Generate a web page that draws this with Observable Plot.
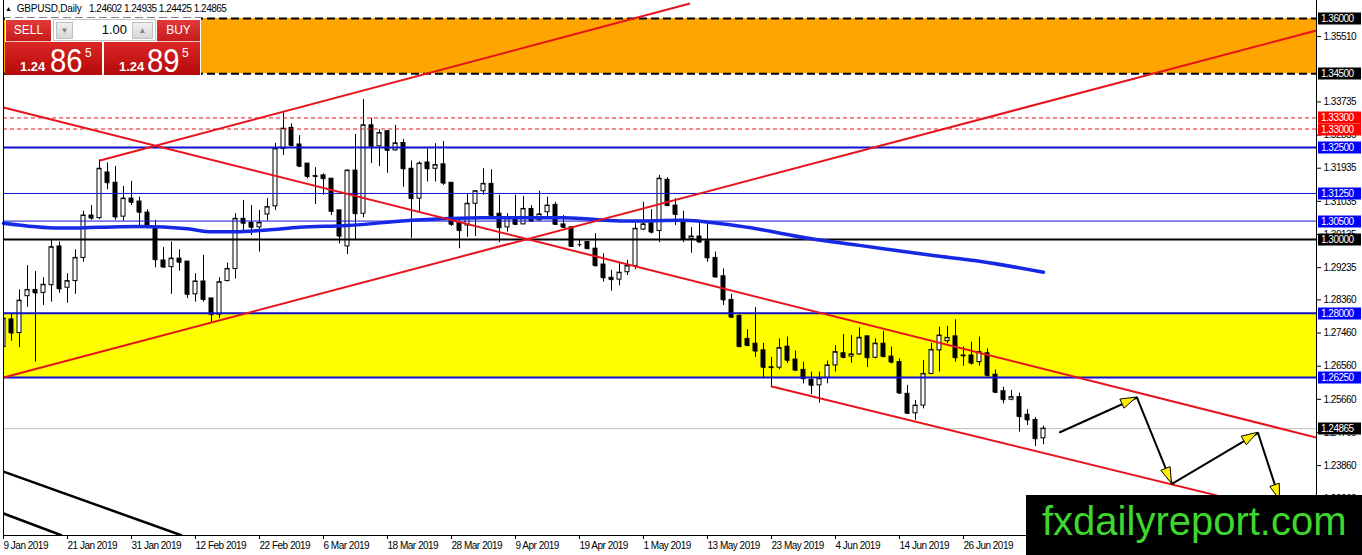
<!DOCTYPE html>
<html><head><meta charset="utf-8">
<script src="https://cdn.jsdelivr.net/npm/d3@7"></script>
<script src="https://cdn.jsdelivr.net/npm/@observablehq/plot@0.6"></script>
<style>
html,body{margin:0;padding:0;background:#fff;}
body{width:1362px;height:555px;overflow:hidden;position:relative;font-family:"Liberation Sans",Arial,sans-serif;}
#chart{position:absolute;left:0;top:0;}
#chart svg text{letter-spacing:-0.5px;}
#hdr{position:absolute;left:5px;top:3px;font-size:10px;letter-spacing:-0.2px;color:#000;white-space:pre;line-height:12px;}
#hdr .tri{font-size:7px;position:relative;top:-1px;margin-right:5px;}
#hdr .ohlc{position:absolute;left:84px;top:0;letter-spacing:-0.5px;}
.box{position:absolute;box-sizing:border-box;}
.lbl{color:#fff;font-size:12px;text-align:center;line-height:21px;background:linear-gradient(#e03a3a,#c81c1c);border-bottom:1px solid #f6c8c8;}
.big{background:linear-gradient(#dc2626,#b40a0a);color:#fff;}
.big span{position:absolute;line-height:1;white-space:nowrap;}
.big .s{font-size:13px;font-weight:bold;}
.big .b{font-size:34px;transform:scaleX(0.86);transform-origin:left top;}
.big .p{font-size:12px;}
#lot{background:#fff;border:1px solid #c4c4c4;}
.spin{position:absolute;background:linear-gradient(#f0f0f0,#d8d8d8);border:1px solid #c0c0c0;color:#808080;font-size:8px;text-align:center;line-height:16px;box-sizing:border-box;}
#lotv{position:absolute;right:28px;top:2px;font-size:13px;line-height:16px;color:#000;}
#wm{position:absolute;left:1026px;top:495px;width:336px;height:60px;background:#000;}
#wm span{position:absolute;left:16px;top:6px;font-size:40px;line-height:1;color:#3fd62e;white-space:nowrap;}
</style></head><body>
<div id="chart"></div>
<div id="hdr"><span class="tri">▲</span><span id="sym"></span><span class="ohlc" id="ohlc"></span></div>
<div class="box" style="left:5px;top:18px;width:196px;height:58px;background:#fff;"></div>
<div class="box lbl" style="left:6px;top:20px;width:45px;height:22px;">SELL</div>
<div class="box" id="lot" style="left:53px;top:19px;width:103px;height:22px;">
  <div class="spin" style="left:2px;top:2px;width:17px;height:17px;">▼</div>
  <span id="lotv"></span>
  <div class="spin" style="left:78px;top:2px;width:21px;height:17px;">▲</div>
</div>
<div class="box lbl" style="left:157px;top:20px;width:43px;height:22px;">BUY</div>
<div class="box big" id="sellBig" style="left:5px;top:42px;width:97px;height:33px;">
  <span class="s" style="left:15px;top:18px;"></span><span class="b" style="left:45px;top:1px;"></span><span class="p" style="left:80px;top:5px;"></span>
</div>
<div class="box big" id="buyBig" style="left:104px;top:42px;width:96px;height:33px;">
  <span class="s" style="left:15px;top:18px;"></span><span class="b" style="left:43px;top:1px;"></span><span class="p" style="left:78px;top:5px;"></span>
</div>
<div id="wm"><span>fxdailyreport.com</span></div>
<script>
// ---------- DATA ----------
const symbol = "GBPUSD,Daily";
const headerOHLC = [1.24602, 1.24935, 1.24425, 1.24865];
const lotSize = "1.00";
const bidPrice = 1.24865;
const askPrice = 1.24895;

const dateLabels = ["9 Jan 2019","21 Jan 2019","31 Jan 2019","12 Feb 2019","22 Feb 2019","6 Mar 2019","18 Mar 2019","28 Mar 2019","9 Apr 2019","19 Apr 2019","1 May 2019","13 May 2019","23 May 2019","4 Jun 2019","14 Jun 2019","26 Jun 2019"];
const barsPerLabel = 8;

const opens = [1.2708,1.2783,1.2746,1.2846,1.2863,1.2855,1.2876,1.2981,1.2869,1.2887,1.2950,1.3065,1.3058,1.3182,1.3154,1.3062,1.3111,1.3103,1.3073,1.3033,1.2943,1.2925,1.2948,1.2940,1.2851,1.2886,1.2840,1.2796,1.2887,1.2920,1.3056,1.3045,1.3033,1.3068,1.3090,1.3246,1.3303,1.3258,1.3206,1.3172,1.3174,1.3165,1.3079,1.2981,1.3187,1.3070,1.3310,1.3253,1.3294,1.3242,1.3262,1.3192,1.3111,1.3209,1.3192,1.3204,1.3154,1.3045,1.3038,1.3097,1.3131,1.3151,1.3070,1.3033,1.3061,1.3041,1.3083,1.3052,1.3074,1.3094,1.3041,1.3033,1.2986,1.2993,1.2975,1.2932,1.2896,1.2891,1.2911,1.2928,1.3027,1.3044,1.3023,1.3162,1.3092,1.3052,1.3002,1.3008,1.2995,1.2950,1.2900,1.2836,1.2792,1.2730,1.2717,1.2699,1.2653,1.2652,1.2709,1.2674,1.2646,1.2619,1.2604,1.2624,1.2658,1.2691,1.2682,1.2688,1.2737,1.2679,1.2717,1.2682,1.2667,1.2581,1.2528,1.2549,1.2635,1.2699,1.2724,1.2737,1.2685,1.2685,1.2667,1.2691,1.2633,1.2588,1.2565,1.2572,1.2524,1.2510];
const highs = [1.2799,1.2799,1.2863,1.2929,1.2913,1.2896,1.2999,1.2993,1.2907,1.2972,1.3077,1.3092,1.3216,1.3208,1.3198,1.3144,1.3158,1.3115,1.3081,1.3052,1.2978,1.2993,1.2972,1.2940,1.2907,1.2957,1.2840,1.2896,1.2936,1.3070,1.3106,1.3092,1.3079,1.3111,1.3261,1.3344,1.3314,1.3282,1.3206,1.3195,1.3178,1.3165,1.3079,1.3189,1.3285,1.3380,1.3329,1.3298,1.3296,1.3310,1.3272,1.3213,1.3211,1.3246,1.3260,1.3266,1.3154,1.3054,1.3122,1.3122,1.3192,1.3189,1.3120,1.3070,1.3120,1.3117,1.3092,1.3131,1.3115,1.3101,1.3065,1.3035,1.2999,1.2993,1.3016,1.2961,1.2916,1.2936,1.2943,1.3043,1.3101,1.3081,1.3174,1.3168,1.3111,1.3077,1.3032,1.3043,1.3041,1.2966,1.2920,1.2851,1.2796,1.2755,1.2815,1.2718,1.2680,1.2730,1.2735,1.2697,1.2667,1.2640,1.2640,1.2670,1.2712,1.2742,1.2739,1.2760,1.2737,1.2730,1.2751,1.2708,1.2676,1.2604,1.2563,1.2671,1.2718,1.2762,1.2764,1.2782,1.2708,1.2721,1.2735,1.2703,1.2646,1.2599,1.2590,1.2583,1.2538,1.2517];
const lows = [1.2699,1.2724,1.2706,1.2816,1.2667,1.2821,1.2830,1.2854,1.2827,1.2851,1.2938,1.3052,1.3054,1.3135,1.3052,1.3050,1.3092,1.3038,1.3029,1.2923,1.2923,1.2851,1.2914,1.2840,1.2830,1.2830,1.2775,1.2785,1.2885,1.2893,1.3017,1.3011,1.2966,1.3050,1.3079,1.3228,1.3251,1.3195,1.3165,1.3095,1.3120,1.3065,1.2988,1.2959,1.2997,1.3059,1.3206,1.3198,1.3180,1.3240,1.3142,1.3003,1.3074,1.3156,1.3156,1.3147,1.3035,1.2975,1.3006,1.3008,1.3120,1.3063,1.2991,1.3020,1.3040,1.3040,1.3047,1.3049,1.3061,1.3038,1.3032,1.2979,1.2979,1.2973,1.2925,1.2884,1.2860,1.2874,1.2902,1.2918,1.3024,1.3015,1.2991,1.3090,1.3038,1.2991,1.2963,1.2990,1.2938,1.2898,1.2821,1.2785,1.2708,1.2709,1.2680,1.2622,1.2601,1.2646,1.2664,1.2645,1.2608,1.2579,1.2556,1.2608,1.2640,1.2676,1.2664,1.2685,1.2652,1.2676,1.2679,1.2662,1.2579,1.2525,1.2509,1.2540,1.2633,1.2640,1.2717,1.2667,1.2656,1.2659,1.2656,1.2626,1.2583,1.2554,1.2562,1.2477,1.2495,1.2438];
const closes = [1.2785,1.2746,1.2834,1.2863,1.2855,1.2877,1.2979,1.2866,1.2887,1.2950,1.3065,1.3058,1.3192,1.3154,1.3061,1.3111,1.3101,1.3074,1.3035,1.2945,1.2925,1.2948,1.2938,1.2851,1.2886,1.2837,1.2796,1.2884,1.2920,1.3056,1.3044,1.3033,1.3045,1.3088,1.3246,1.3301,1.3255,1.3199,1.3171,1.3171,1.3165,1.3076,1.3009,1.3187,1.3070,1.3310,1.3253,1.3289,1.3242,1.3261,1.3192,1.3111,1.3206,1.3192,1.3202,1.3153,1.3041,1.3024,1.3097,1.3131,1.3151,1.3065,1.3032,1.3056,1.3041,1.3083,1.3050,1.3068,1.3092,1.3041,1.3033,1.2981,1.2986,1.2975,1.2929,1.2896,1.2891,1.2910,1.2928,1.3029,1.3041,1.3020,1.3165,1.3092,1.3068,1.3002,1.3008,1.2993,1.2950,1.2898,1.2836,1.2789,1.2709,1.2712,1.2697,1.2653,1.2652,1.2705,1.2672,1.2645,1.2622,1.2604,1.2622,1.2658,1.2694,1.2680,1.2688,1.2733,1.2679,1.2717,1.2682,1.2667,1.2583,1.2528,1.2549,1.2635,1.2700,1.2739,1.2733,1.2679,1.2684,1.2664,1.2694,1.2631,1.2585,1.2565,1.2572,1.2519,1.2510,1.2459];
// last (current) bar from the header
opens.push(headerOHLC[0]); highs.push(headerOHLC[1]); lows.push(headerOHLC[2]); closes.push(headerOHLC[3]);

// moving average (bar index, value)
const maBars = [0,7,12,17,23,26,29,33,37,43,51,60,70,78,85,89,93,101,107,116,122,130];
const maValues = [1.3044,1.3031,1.3033,1.3035,1.3029,1.3021,1.3021,1.3026,1.3033,1.3038,1.3052,1.3059,1.3059,1.3050,1.3052,1.3045,1.3033,1.3002,1.2984,1.2957,1.2941,1.2911];

// zones and horizontal levels
const orangeZone = [1.345, 1.36];
const yellowZone = [1.2625, 1.28];
const blackDashedLevels = [1.36, 1.345];
const redDashedLevels = [1.333, 1.330];
const blueThickLevels = [1.325, 1.28, 1.2625];
const blueThinLevels = [1.3125, 1.305];
const blackLevels = [1.30];
const currentPrice = 1.24865;

// trendlines: [bar, price] start and end
const redTrendStart = [[12.06,1.32144],[0,1.26252],[0,1.33584],[95.9,1.26016]];
const redTrendEnd   = [[85.81,1.36407],[164.1,1.35674],[164.1,1.24623],[164.1,1.22389]];
const blackTrendStart = [[0,1.23698],[0,1.2256]];
const blackTrendEnd   = [[22.3,1.21963],[7.3,1.21963]];

// forecast zig-zag arrows
const arrowBars   = [132.06,141.69,146.06,156.81,159.56];
const arrowPrices = [1.24767,1.25709,1.23366,1.24751,1.22913];

// right-axis ticks and labelled levels
const yTicks = [1.35510,1.33735,1.32835,1.31935,1.31035,1.30135,1.29235,1.28360,1.27460,1.26560,1.25660,1.24760,1.23860,1.22960];
const tagLevels = [1.36,1.345,1.333,1.330,1.325,1.3125,1.305,1.30,1.28,1.2625,1.24865];
const tagKinds  = ["k","k","r","r","b","b","b","k","b","b","k"];

// ---------- CHART ----------
const xDomain = [0, 164.125];
const yDomain = [1.21963, 1.36489];
const candles = opens.map((o,i)=>({i, o, h:highs[i], l:lows[i], c:closes[i]}));
const ma = maBars.map((b,k)=>({b, v:maValues[k]}));
const arrows = arrowBars.map((b,k)=>({b, p:arrowPrices[k]}));
const redTrends = redTrendStart.map((s,k)=>({s, e:redTrendEnd[k]}));
const blackTrends = blackTrendStart.map((s,k)=>({s, e:blackTrendEnd[k]}));
const tickBars = dateLabels.map((_,k)=>k*barsPerLabel);
const half = 0.25;

const chart = Plot.plot({
  width:1362, height:555,
  marginLeft:3, marginRight:46, marginTop:0, marginBottom:20,
  x:{domain:xDomain, axis:null},
  y:{domain:yDomain, axis:null},
  color:{type:"identity"},
  style:{fontFamily:"Liberation Sans, Arial, sans-serif", fontSize:"10px", background:"#fff", color:"#000"},
  marks:[
    Plot.rect([orangeZone], {x1:()=>xDomain[0], x2:()=>xDomain[1], y1:d=>d[0], y2:d=>d[1], fill:"#ffa500"}),
    Plot.rect([yellowZone], {x1:()=>xDomain[0], x2:()=>xDomain[1], y1:d=>d[0], y2:d=>d[1], fill:"#ffff00"}),
    Plot.ruleY([currentPrice], {stroke:"#c0c0c0", strokeWidth:1}),
    // candles
    Plot.ruleX(candles, {x:"i", y1:"l", y2:"h", stroke:"#000", strokeWidth:1, clip:true}),
    Plot.rect(candles, {x1:d=>d.i-half, x2:d=>d.i+half, y1:"o", y2:"c", fill:d=>d.c>=d.o?"#fff":"#000", stroke:"#000", strokeWidth:1, clip:true}),
    Plot.link(candles, {x1:d=>d.i-half, x2:d=>d.i+half, y1:"c", y2:"c", stroke:"#000", strokeWidth:1, clip:true}),
    // horizontal levels
    Plot.ruleY(blackDashedLevels, {stroke:"#000", strokeWidth:2, strokeDasharray:"8,4"}),
    Plot.ruleY(redDashedLevels, {stroke:"#e8141c", strokeWidth:1, strokeDasharray:"4,3"}),
    Plot.ruleY(blueThinLevels, {stroke:"#1010d0", strokeWidth:1}),
    Plot.ruleY(blueThickLevels, {stroke:"#1010d0", strokeWidth:2}),
    Plot.ruleY(blackLevels, {stroke:"#000", strokeWidth:2}),
    // moving average
    Plot.line(ma, {x:"b", y:"v", stroke:"#1428e6", strokeWidth:3.5, curve:"monotone-x"}),
    // trendlines
    Plot.link(redTrends, {x1:d=>d.s[0], y1:d=>d.s[1], x2:d=>d.e[0], y2:d=>d.e[1], stroke:"#e8141c", strokeWidth:2, clip:true}),
    Plot.link(blackTrends, {x1:d=>d.s[0], y1:d=>d.s[1], x2:d=>d.e[0], y2:d=>d.e[1], stroke:"#000", strokeWidth:2.5, clip:true}),
    // forecast arrows
    Plot.line(arrows, {x:"b", y:"p", stroke:"#000", strokeWidth:2}),
    // frame
    Plot.ruleX([xDomain[0], xDomain[1]], {stroke:"#000"}),
    Plot.ruleY([yDomain[0]], {stroke:"#000"}),
    // axes
    Plot.axisX(tickBars, {tickFormat:d=>dateLabels[d/barsPerLabel], textAnchor:"start", tickSize:4, tickPadding:2, dx:0, label:null}),
    Plot.axisY(yTicks, {anchor:"right", tickFormat:d=>d.toFixed(5), tickSize:4, tickPadding:3, label:null})
  ]
});
document.getElementById("chart").appendChild(chart);

// arrowheads and price tags using Plot's own scales
const sx = chart.scale("x"), sy = chart.scale("y");
const svg = d3.select(chart);
const gh = svg.append("g");
for (let k=1;k<arrows.length;k++){
  const x1=sx.apply(arrows[k-1].b), y1=sy.apply(arrows[k-1].p);
  const x2=sx.apply(arrows[k].b), y2=sy.apply(arrows[k].p);
  const a=Math.atan2(y2-y1,x2-x1), L=16, W=5;
  const bx=x2-L*Math.cos(a), by=y2-L*Math.sin(a);
  const nx=-Math.sin(a), ny=Math.cos(a);
  gh.append("polygon").attr("points",[[x2,y2],[bx+W*nx,by+W*ny],[bx-W*nx,by-W*ny]].map(p=>p.join(",")).join(" "))
    .attr("fill","#ffee00").attr("stroke","#000").attr("stroke-width",1);
}
const tagFill = {k:"#000", r:"#ff0000", b:"#0000ff"};
const gt = svg.append("g").attr("text-anchor","start");
tagLevels.forEach((v,k)=>{
  const y = Math.round(sy.apply(v));
  gt.append("rect").attr("x",1318).attr("y",y-5.5).attr("width",43).attr("height",12).attr("fill",tagFill[tagKinds[k]]);
  gt.append("text").attr("x",1321).attr("y",y+4).attr("text-anchor","start").attr("fill","#fff").attr("font-size",10).text(v.toFixed(5));
});

// header and trade panel text
document.getElementById("sym").textContent = symbol;
document.getElementById("ohlc").textContent = headerOHLC.map(v=>v.toFixed(5)).join(" ");
document.getElementById("lotv").textContent = lotSize;
function fillBig(id, price){
  const s = price.toFixed(5);
  const el = document.getElementById(id);
  el.querySelector(".s").textContent = s.slice(0,4);
  el.querySelector(".b").textContent = s.slice(4,6);
  el.querySelector(".p").textContent = s.slice(6);
}
fillBig("sellBig", bidPrice);
fillBig("buyBig", askPrice);
</script>
</body></html>
